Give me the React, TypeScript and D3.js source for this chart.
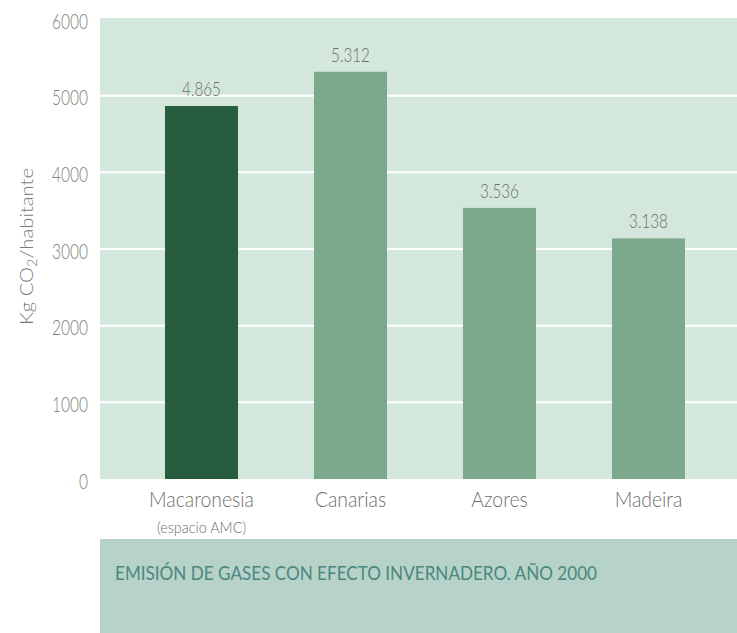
import React from "react";
import * as d3 from "d3";

const categories = ["Macaronesia", "Canarias", "Azores", "Madeira"];
const subLabels = ["(espacio AMC)", "", "", ""];
const values = [4865, 5312, 3536, 3138];
const valueLabels = ["4.865", "5.312", "3.536", "3.138"];
const yTicks = [0, 1000, 2000, 3000, 4000, 5000, 6000];
const title = "EMISIÓN DE GASES CON EFECTO INVERNADERO. AÑO 2000";

const W = 737;
const H = 633;
const FONT = "Lato, 'Open Sans', sans-serif";

export default function App() {
  const plotLeft = 100;
  const plotTop = 18;
  const plotBottom = 479;
  const y = d3.scaleLinear().domain([0, 6000]).range([plotBottom, plotBottom - 460]);
  const x = d3
    .scaleBand<string>()
    .domain(categories)
    .range([127, 723])
    .paddingInner(0.51)
    .paddingOuter(0.255);

  const cx = (c: string) => (x(c) as number) + x.bandwidth() / 2;

  return (
    <svg
      width={W}
      height={H}
      style={{ position: "absolute", left: 0, top: 0, background: "#fff" }}
      fontFamily={FONT}
      fontWeight={300}
    >
      <rect x={0} y={0} width={W} height={H} fill="#ffffff" />
      {/* plot background */}
      <rect x={plotLeft} y={plotTop} width={W - plotLeft} height={plotBottom - plotTop} fill="#d4e7dc" />
      {/* gridlines */}
      {yTicks
        .filter((t) => t > 0 && t < 6000)
        .map((t) => (
          <line key={t} x1={plotLeft} x2={W} y1={y(t)} y2={y(t)} stroke="#ffffff" strokeWidth={2} />
        ))}
      {/* y tick labels */}
      {yTicks.map((t) => (
        <text
          key={t}
          transform={`translate(88, ${y(t) + 9.5}) scale(0.74, 1)`}
          textAnchor="end"
          fontSize={21}
          fill="#7d7d7d"
        >
          {t}
        </text>
      ))}
      {/* y axis label */}
      <text
        transform={`translate(33, ${246.5}) rotate(-90)`}
        textAnchor="middle"
        fontSize={18}
        fill="#7a7a7a"
        textLength={157}
        lengthAdjust="spacingAndGlyphs"
      >
        Kg CO
        <tspan dy={4} fontSize={13}>2</tspan>
        <tspan dy={-4}>/habitante</tspan>
      </text>
      {/* bars */}
      {categories.map((c, i) => (
        <rect
          key={c}
          x={x(c)}
          y={y(values[i])}
          width={x.bandwidth()}
          height={plotBottom - y(values[i])}
          fill={i === 0 ? "#275d3e" : "#7ca98c"}
        />
      ))}
      {/* value labels */}
      {categories.map((c, i) => (
        <text
          key={c}
          transform={`translate(${cx(c)}, ${y(values[i]) - 10}) scale(0.8, 1)`}
          textAnchor="middle"
          fontSize={19}
          fill="#6e6e6e"
        >
          {valueLabels[i]}
        </text>
      ))}
      {/* category labels */}
      {categories.map((c, i) => (
        <g key={c}>
          <text
            transform={`translate(${cx(c)}, 507) scale(0.88, 1)`}
            textAnchor="middle"
            fontSize={22}
            fill="#6e6e6e"
          >
            {c}
          </text>
          {subLabels[i] && (
            <text
              transform={`translate(${cx(c)}, 533) scale(0.9, 1)`}
              textAnchor="middle"
              fontSize={16}
              fill="#6e6e6e"
            >
              {subLabels[i]}
            </text>
          )}
        </g>
      ))}
      {/* bottom title box */}
      <rect x={plotLeft} y={539} width={W - plotLeft} height={H - 539} fill="#b7d2c9" />
      <text
        x={115}
        y={580}
        fontSize={19}
        fontWeight={400}
        fill="#4a887e"
        textLength={482}
        lengthAdjust="spacingAndGlyphs"
      >
        {title}
      </text>
    </svg>
  );
}
